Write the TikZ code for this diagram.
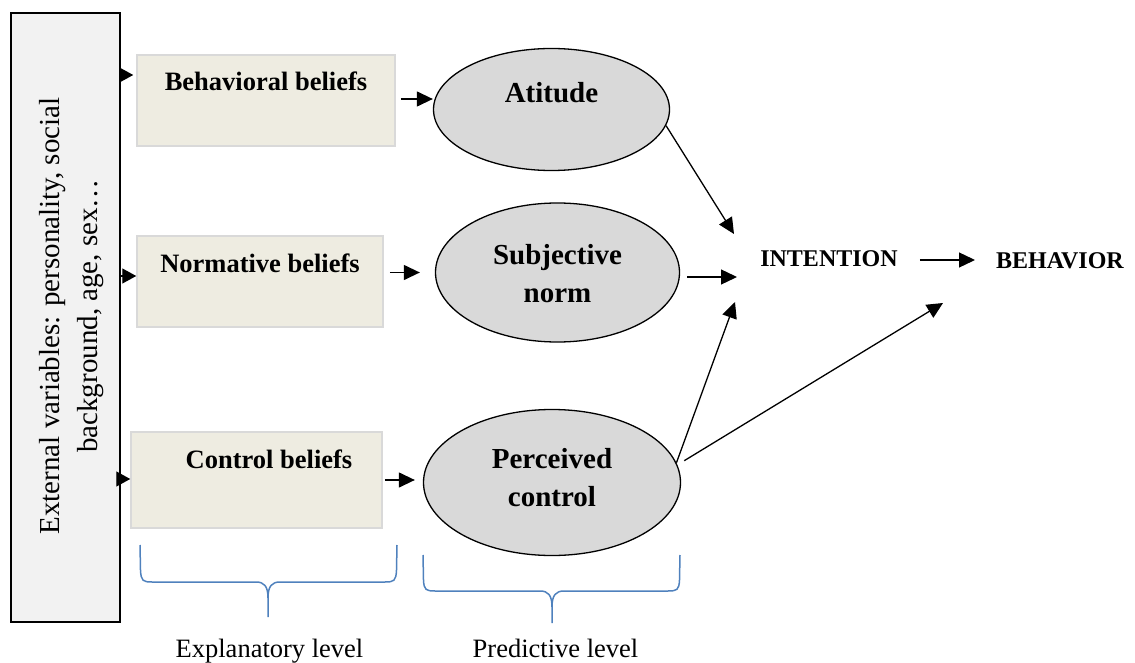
\documentclass[tikz,border=0pt]{standalone}
\usepackage{fontspec}
\setmainfont{Liberation Serif}[BoldFont={Liberation Serif Bold}]
\usetikzlibrary{arrows.meta,shapes.geometric}
\definecolor{beliefFill}{HTML}{EEECE1}
\definecolor{beliefLine}{HTML}{D9D9D9}
\definecolor{ellFill}{HTML}{D9D9D9}
\definecolor{extFill}{HTML}{F2F2F2}
\definecolor{braceBlue}{HTML}{4F81BD}
\begin{document}
\begin{tikzpicture}[x=1pt,y=-1pt,
 belief/.style={draw=beliefLine, line width=1.5pt, fill=beliefFill, inner sep=0pt},
 btext/.style={font=\fontsize{26.5}{32}\selectfont\bfseries, anchor=base, inner sep=0pt},
 oval/.style={ellipse, draw, line width=1.3pt, fill=ellFill, inner sep=0pt},
 otext/.style={font=\fontsize{29}{38}\selectfont\bfseries, align=center, inner sep=0pt},
 captext/.style={font=\fontsize{24}{28}\selectfont\bfseries, anchor=base, inner sep=0pt},
 lvl/.style={font=\fontsize{26.5}{32}\selectfont, anchor=base, inner sep=0pt},
 arr/.style={-{Triangle[length=16pt,width=15pt]}, line width=1.3pt},
 headonly/.style={-{Triangle[length=14pt,width=15pt]}, line width=1.3pt},
 brace/.style={draw=braceBlue, line width=1.5pt},
]
\useasboundingbox (0,0) rectangle (1135,663);

% external variables
\node[draw, line width=1.5pt, fill=extFill, minimum width=109pt, minimum height=609pt, inner sep=0pt] (ext) at (65.5,317.5) {};
\node[rotate=90, align=center, font=\fontsize{29}{38}\selectfont, inner sep=0pt] (extt) at (72,316)
  {External variables: personality, social\\background, age, sex…};

% belief boxes
\node[belief, minimum width=258pt, minimum height=91pt] (bb) at (266,100.5) {};
\node[btext] (bbt) at (266,91) {Behavioral beliefs};
\node[belief, minimum width=246pt, minimum height=91pt] (nb) at (260,281.5) {};
\node[btext] (nbt) at (260,272) {Normative beliefs};
\node[belief, minimum width=251pt, minimum height=96pt] (cb) at (256.5,480) {};
\node[btext] (cbt) at (269,468) {Control beliefs};

% arrows from external box
\draw[headonly, shorten >=3pt] (ext.east |- 0,75) -- (bb.west |- 0,75);
\draw[headonly] (ext.east |- 0,276) -- (nb.west |- 0,276);
\draw[headonly] (ext.east |- 0,479) -- (cb.west |- 0,479);

% ellipses
\node[oval, minimum width=236pt, minimum height=122pt] (at) at (551.5,109.5) {};
\node[otext, anchor=base] (att) at (551.5,103) {Atitude};
\node[oval, minimum width=244pt, minimum height=139pt] (sn) at (557.5,272.5) {};
\node[otext] (snt) at (557.5,273.5) {Subjective\\norm};
\node[oval, minimum width=257pt, minimum height=146pt] (pc) at (552,482.5) {};
\node[otext] (pct) at (552,477.5) {Perceived\\control};

% arrows belief -> ellipse
\draw[arr, shorten <=5pt] (bb.east |- 0,99) -- (at.west |- 0,99);
\draw[arr, shorten <=6pt, shorten >=15pt] (nb.east |- sn) -- (sn.west);
\draw[arr, shorten <=2pt, shorten >=8pt] (cb.east |- 0,480) -- (pc.west |- 0,480);

% intention and behavior
\node[captext] (int) at (829,266) {INTENTION};
\node[captext] (beh) at (1060,269) {BEHAVIOR};
\coordinate (i1) at (734,234);
\coordinate (i2) at (737,277);
\coordinate (i3) at (735,302);
\coordinate (b1) at (943,303);

\draw[arr] (at.-8) -- (i1);
\draw[arr, shorten <=7pt] (sn.east |- i2) -- (i2);
\draw[arr] (pc.9) -- (i3);
\draw[arr, shorten <=8pt] (pc.8) -- (b1);
\draw[arr, shorten <=22pt, shorten >=21pt] (int.east |- 0,260) -- (beh.west |- 0,260);

% braces
\draw[brace] (140,545) -- (140.5,570) .. controls (141,581) and (143,582) .. (152,582)
  -- (256,582) .. controls (264,582) and (268,586) .. (268,598) -- (268,617);
\draw[brace] (397,545) -- (396.5,570) .. controls (396,581) and (394,582) .. (385,582)
  -- (280,582) .. controls (272,582) and (268,586) .. (268,598);
\draw[brace] (423,555) -- (423.5,580) .. controls (424,590) and (426,591) .. (435,591)
  -- (540,591) .. controls (548,591) and (552,595) .. (552,607) -- (552,623);
\draw[brace] (680,555) -- (679.5,580) .. controls (679,590) and (677,591) .. (668,591)
  -- (564,591) .. controls (556,591) and (552,595) .. (552,607);

\node[lvl] (explv) at (269.5,657) {Explanatory level};
\node[lvl] (predlv) at (555.5,657) {Predictive level};
\end{tikzpicture}
\end{document}
